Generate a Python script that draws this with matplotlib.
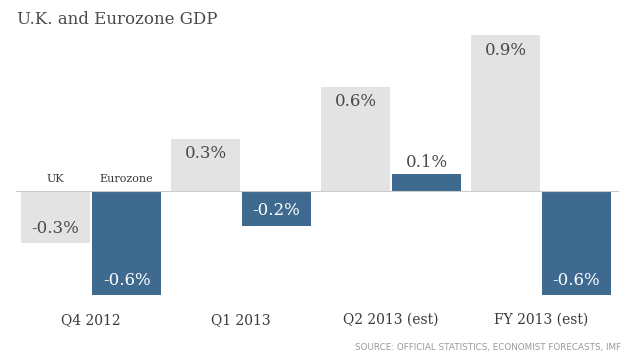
import numpy as np
import matplotlib.pyplot as plt

# data
periods = ['Q4 2012', 'Q1 2013', 'Q2 2013 (est)', 'FY 2013 (est)']
uk = [-0.3, 0.3, 0.6, 0.9]
eurozone = [-0.6, -0.2, 0.1, -0.6]

gray = '#e3e3e3'
blue = '#3d6a8e'
text_dark = '#4a4a4a'
serif = 'DejaVu Serif'

fig = plt.figure(figsize=(6.4, 3.58), dpi=100)
ax = fig.add_axes([0, 0, 1, 1])

x = np.arange(len(periods))
w = 0.455
off = 0.237

ax.bar(x - off, uk, w, color=gray)
ax.bar(x + off, eurozone, w, color=blue)

ax.axhline(0, xmin=0.025, xmax=0.966, color='#cccccc', lw=0.8)

pad = 0.085


def label(xp, v, inside_color):
    if abs(v) < 0.15:
        # too short, put label above the bar
        ax.text(xp, v + 0.065, '%.1f%%' % v, ha='center', va='center',
                fontsize=12, color=text_dark, family=serif)
        return
    ypos = v - pad if v > 0 else v + pad
    ax.text(xp, ypos, '%.1f%%' % v, ha='center', va='center',
            fontsize=12, color=inside_color, family=serif)


for i in range(len(periods)):
    label(x[i] - off, uk[i], text_dark)
    label(x[i] + off, eurozone[i], 'white')
    ax.text(x[i], -0.745, periods[i], ha='center', va='center',
            fontsize=10, color='#3a3a3a', family=serif)

# series labels
ax.text(x[0] - off, 0.07, 'UK', ha='center', va='center', fontsize=8,
        color='#3a3a3a', family=serif)
ax.text(x[0] + off, 0.07, 'Eurozone', ha='center', va='center', fontsize=8,
        color='#3a3a3a', family=serif)

ax.set_xlim(-0.607, 3.66)
ax.set_ylim(-0.965, 1.104)
ax.axis('off')

fig.text(0.027, 0.945, 'U.K. and Eurozone GDP', fontsize=12, color=text_dark,
         family=serif, va='center')
fig.text(0.97, 0.03, 'SOURCE: OFFICIAL STATISTICS, ECONOMIST FORECASTS, IMF',
         fontsize=6.3, color='#999999', ha='right', va='center')

fig.savefig('out.png', dpi=100)
